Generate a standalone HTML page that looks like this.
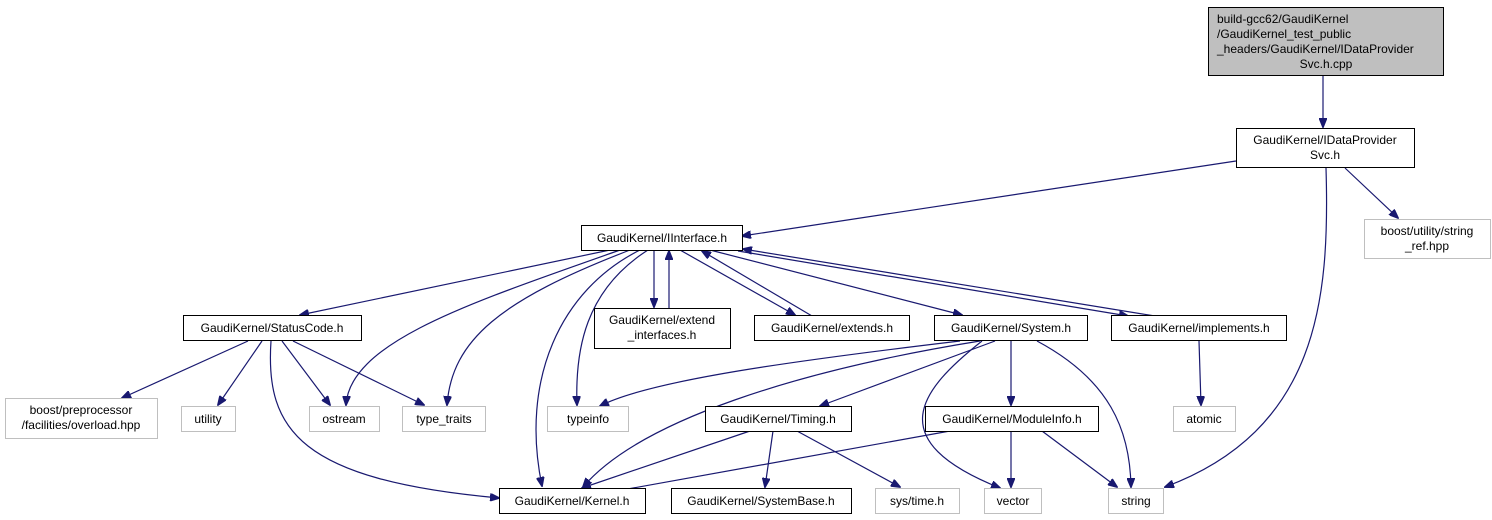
<!DOCTYPE html>
<html><head><meta charset="utf-8"><style>
html,body{margin:0;padding:0;background:#fff;}
svg{display:block;}
text{font-family:"Liberation Sans",sans-serif;font-size:12px;fill:#000;}
</style></head><body>
<svg width="1492" height="520" viewBox="0 0 1492 520" xmlns="http://www.w3.org/2000/svg">
<defs>
<marker id="a" markerWidth="10" markerHeight="8" refX="9" refY="4" orient="auto" markerUnits="userSpaceOnUse">
<polygon points="0,0 10,4 0,8" fill="#191970" stroke="#191970"/>
</marker>
</defs>
<g fill="none" stroke="#191970" stroke-width="1.2" marker-end="url(#a)">
<path d="M1323,76 L1323,127"/>
<path d="M1236,161 L742,236"/>
<path d="M1345,168 L1398,218"/>
<path d="M1326,168 C1330,300 1318,430 1165,487"/>
<path d="M610,250 L300,315"/>
<path d="M620,250 C480,300 350,340 346,405"/>
<path d="M630,250 C500,300 452,340 447,405"/>
<path d="M640,250 C560,290 520,380 542,486"/>
<path d="M648,250 C585,290 575,350 577,405"/>
<path d="M654,250 L654,307"/>
<path d="M669,308 L669,251"/>
<path d="M680,250 L795,315"/>
<path d="M812,316 L702,251"/>
<path d="M710,250 L962,315"/>
<path d="M738,251 L1128,316"/>
<path d="M1155,316 L743,249"/>
<path d="M248,341 L122,398"/>
<path d="M262,341 L218,405"/>
<path d="M282,341 L330,405"/>
<path d="M293,341 L424,405"/>
<path d="M271,341 C265,430 300,480 499,498"/>
<path d="M960,341 C800,360 650,380 600,406"/>
<path d="M980,341 C800,370 640,420 583,487"/>
<path d="M995,341 L820,406"/>
<path d="M982,341 C920,390 880,440 1000,488"/>
<path d="M1011,341 L1011,405"/>
<path d="M1037,341 C1110,380 1130,430 1131,487"/>
<path d="M1199,341 L1201,405"/>
<path d="M750,431 L582,488"/>
<path d="M773,431 L765,487"/>
<path d="M797,431 L900,487"/>
<path d="M950,431 L600,494"/>
<path d="M1011,431 L1011,487"/>
<path d="M1042,431 L1117,487"/>
</g>
<g stroke-width="1">
<rect x="1208.5" y="7.5" width="235" height="68" fill="#bfbfbf" stroke="#000"/>
<rect x="1236.5" y="128.5" width="178" height="39" fill="#fff" stroke="#000"/>
<rect x="1364.5" y="219.5" width="126" height="39" fill="#fff" stroke="#bfbfbf"/>
<rect x="581.5" y="225.5" width="161" height="25" fill="#fff" stroke="#000"/>
<rect x="183.5" y="315.5" width="178" height="25" fill="#fff" stroke="#000"/>
<rect x="594.5" y="308.5" width="136" height="40" fill="#fff" stroke="#000"/>
<rect x="754.5" y="315.5" width="155" height="25" fill="#fff" stroke="#000"/>
<rect x="934.5" y="315.5" width="153" height="25" fill="#fff" stroke="#000"/>
<rect x="1111.5" y="315.5" width="175" height="25" fill="#fff" stroke="#000"/>
<rect x="5.5" y="398.5" width="152" height="40" fill="#fff" stroke="#bfbfbf"/>
<rect x="181.5" y="406.5" width="54" height="25" fill="#fff" stroke="#bfbfbf"/>
<rect x="309.5" y="406.5" width="70" height="25" fill="#fff" stroke="#bfbfbf"/>
<rect x="402.5" y="406.5" width="83" height="25" fill="#fff" stroke="#bfbfbf"/>
<rect x="547.5" y="406.5" width="81" height="25" fill="#fff" stroke="#bfbfbf"/>
<rect x="705.5" y="406.5" width="146" height="25" fill="#fff" stroke="#000"/>
<rect x="925.5" y="406.5" width="173" height="25" fill="#fff" stroke="#000"/>
<rect x="1173.5" y="406.5" width="62" height="25" fill="#fff" stroke="#bfbfbf"/>
<rect x="499.5" y="488.5" width="146" height="25" fill="#fff" stroke="#000"/>
<rect x="671.5" y="488.5" width="180" height="25" fill="#fff" stroke="#000"/>
<rect x="875.5" y="488.5" width="84" height="25" fill="#fff" stroke="#bfbfbf"/>
<rect x="984.5" y="488.5" width="57" height="25" fill="#fff" stroke="#bfbfbf"/>
<rect x="1108.5" y="488.5" width="55" height="25" fill="#fff" stroke="#bfbfbf"/>
</g>
<g>
<text x="1217" y="23">build-gcc62/GaudiKernel</text>
<text x="1217" y="38">/GaudiKernel_test_public</text>
<text x="1217" y="53">_headers/GaudiKernel/IDataProvider</text>
<text x="1326" y="68" text-anchor="middle">Svc.h.cpp</text>
<g text-anchor="middle">
<text x="1325" y="144">GaudiKernel/IDataProvider</text>
<text x="1325" y="159">Svc.h</text>
<text x="1427" y="235">boost/utility/string</text>
<text x="1427" y="250">_ref.hpp</text>
<text x="662" y="242">GaudiKernel/IInterface.h</text>
<text x="272" y="332">GaudiKernel/StatusCode.h</text>
<text x="662" y="324">GaudiKernel/extend</text>
<text x="662" y="339">_interfaces.h</text>
<text x="832" y="332">GaudiKernel/extends.h</text>
<text x="1011" y="332">GaudiKernel/System.h</text>
<text x="1199" y="332">GaudiKernel/implements.h</text>
<text x="81" y="414">boost/preprocessor</text>
<text x="81" y="429">/facilities/overload.hpp</text>
<text x="208" y="423">utility</text>
<text x="344" y="423">ostream</text>
<text x="444" y="423">type_traits</text>
<text x="588" y="423">typeinfo</text>
<text x="778" y="423">GaudiKernel/Timing.h</text>
<text x="1012" y="423">GaudiKernel/ModuleInfo.h</text>
<text x="1204" y="423">atomic</text>
<text x="572" y="505">GaudiKernel/Kernel.h</text>
<text x="761" y="505">GaudiKernel/SystemBase.h</text>
<text x="917" y="505">sys/time.h</text>
<text x="1013" y="505">vector</text>
<text x="1136" y="505">string</text>
</g>
</g>
</svg>
</body></html>
